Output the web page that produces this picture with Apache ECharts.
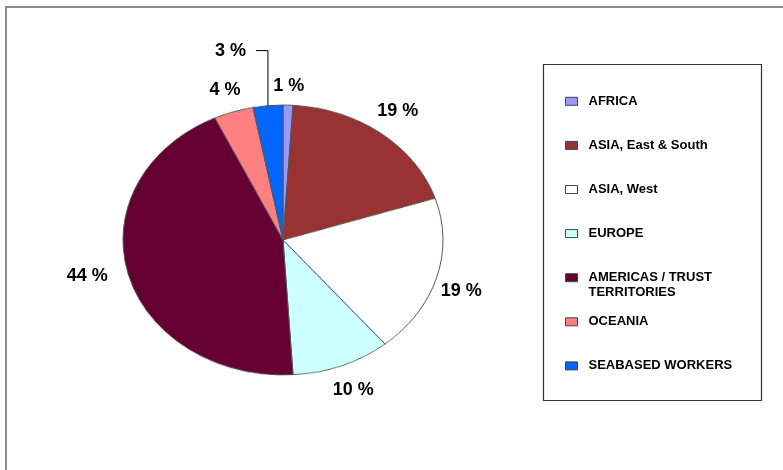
<!DOCTYPE html>
<html>
<head>
<meta charset="utf-8">
<script src="https://cdn.jsdelivr.net/npm/echarts@6/dist/echarts.min.js"></script>
<style>
  html, body { margin: 0; padding: 0; background: #ffffff; }
  #wrap { position: relative; width: 783px; height: 470px; overflow: hidden; }
  #pie, #overlay { position: absolute; left: 0; top: 0; width: 783px; height: 470px; }
  /* the pie is drawn as a circle and flattened into an ellipse around its centre */
  #pie { transform-origin: 283px 240px; transform: scaleY(0.84375); }
</style>
</head>
<body>
<div id="wrap">
  <div id="pie"></div>
  <div id="overlay"></div>
</div>
<script>
// ---- data ----
const categories = ['AFRICA', 'ASIA, East & South', 'ASIA, West', 'EUROPE',
  'AMERICAS / TRUST TERRITORIES', 'OCEANIA', 'SEABASED WORKERS'];
const shares = [1, 19, 19, 10, 44, 4, 3];
const legendLabels = ['AFRICA', 'ASIA, East & South', 'ASIA, West', 'EUROPE',
  'AMERICAS / TRUST\nTERRITORIES', 'OCEANIA', 'SEABASED WORKERS'];

// ---- styling ----
const sliceColors = ['#9999FF', '#993333', '#FFFFFF', '#CCFFFF', '#660033', '#FF8080', '#0066FF'];
const FONT = "'Liberation Sans', Arial, Helvetica, sans-serif";
const CX = 283, CY = 240, RX = 160, RY = 135;   // ellipse centre and radii
const LABEL_GAP = 12, CAP_HALF = 6.5;
const labelNudge = {
  'ASIA, East & South': [-4, 0],
  'ASIA, West': [-8, 5],
  'AMERICAS / TRUST TERRITORIES': [-8, -5]
};
const leaderLines = { 'SEABASED WORKERS': { rise: 55, run: 12, gap: 10 } };

// legend rows: first icon centre and row pitch; wrapped entries hang below their icon
const LEGEND_LEFT = 565, LEGEND_FIRST = 101.3, LEGEND_PITCH = 44.1, LEGEND_LINE = 15;

const total = shares.reduce((a, b) => a + b, 0);
function midAngle(i) {
  let before = 0;
  for (let j = 0; j < i; j++) before += shares[j];
  return (before + shares[i] / 2) / total * 2 * Math.PI;
}
function rimPoint(a) {
  return [CX + RX * Math.sin(a), CY - RY * Math.cos(a)];
}

// ---- coloured slices ----
const pieChart = echarts.init(document.getElementById('pie'), null, { renderer: 'canvas' });
pieChart.setOption({
  animation: false,
  backgroundColor: 'transparent',
  series: [{
    type: 'pie',
    center: [CX, CY],
    radius: RX,
    startAngle: 90,
    clockwise: true,
    silent: true,
    label: { show: false },
    labelLine: { show: false },
    itemStyle: { borderColor: '#555555', borderWidth: 1 },
    data: categories.map((n, i) => ({ name: n, value: shares[i], itemStyle: { color: sliceColors[i] } }))
  }]
});

// ---- legend: split into runs so that a wrapped entry keeps the row pitch ----
function legendBlock(from, to) {
  const extraLines = legendLabels[from].split('\n').length - 1;
  // blank lines above a wrapped entry keep its first line level with the icon
  const lead = '\n'.repeat(extraLines);
  const halfBox = (LEGEND_LINE * (1 + 2 * extraLines)) / 2;
  return {
    orient: 'vertical',
    left: LEGEND_LEFT,
    top: LEGEND_FIRST + from * LEGEND_PITCH - halfBox,
    padding: 0,
    itemWidth: 12,
    itemHeight: 8,
    itemGap: LEGEND_PITCH - LEGEND_LINE,
    icon: 'rect',
    selectedMode: false,
    itemStyle: { borderColor: '#444444', borderWidth: 1 },
    textStyle: {
      fontFamily: FONT, fontWeight: 'bold', fontSize: 13, color: '#000000',
      lineHeight: LEGEND_LINE, padding: [0, 0, 0, 6]
    },
    formatter: name => lead + legendLabels[categories.indexOf(name)],
    data: categories.slice(from, to).map((n, k) => ({ name: n, itemStyle: { color: sliceColors[from + k] } }))
  };
}

// ---- labels, legend and frames ----
const overlay = echarts.init(document.getElementById('overlay'), null, { renderer: 'canvas' });
overlay.setOption({
  animation: false,
  backgroundColor: 'transparent',
  graphic: [
    { type: 'rect', silent: true, shape: { x: 6, y: 7, width: 840, height: 540 },
      style: { fill: 'none', stroke: '#8a8a8a', lineWidth: 2 } },
    { type: 'rect', silent: true, shape: { x: 543.5, y: 64.5, width: 218, height: 336 },
      style: { fill: 'none', stroke: '#333333', lineWidth: 1.2 } }
  ],
  legend: [legendBlock(0, 4), legendBlock(4, 5), legendBlock(5, 7)],
  series: [{
    type: 'pie',
    center: [CX, CY],
    radius: RY,
    startAngle: 90,
    clockwise: true,
    silent: true,
    avoidLabelOverlap: false,
    itemStyle: { color: 'rgba(0,0,0,0)', borderWidth: 0 },
    label: {
      show: true, position: 'outside', formatter: '{c} %',
      fontFamily: FONT, fontWeight: 'bold', fontSize: 18, color: '#000000'
    },
    labelLine: { show: false, lineStyle: { color: '#000000', width: 1 } },
    labelLayout: function (p) {
      const i = p.dataIndex;
      const name = categories[i];
      const [px, py] = rimPoint(midAngle(i));
      const lead = leaderLines[name];
      if (lead) {
        const ty = py - lead.rise, tx = px - lead.run;
        return {
          x: tx - lead.gap, y: ty, align: 'right', verticalAlign: 'middle',
          labelLinePoints: [[px, py], [px, ty], [tx, ty]]
        };
      }
      let ux = px - CX, uy = py - CY;
      const n = Math.hypot(ux, uy);
      ux /= n; uy /= n;
      const k = LABEL_GAP + p.labelRect.width / 2 * Math.abs(ux) + CAP_HALF * Math.abs(uy);
      const d = labelNudge[name] || [0, 0];
      return { x: px + ux * k + d[0], y: py + uy * k + d[1], align: 'center', verticalAlign: 'middle' };
    },
    data: categories.map((n, i) => ({
      name: n,
      value: shares[i],
      labelLine: { show: !!leaderLines[n] }
    }))
  }]
});
</script>
</body>
</html>
